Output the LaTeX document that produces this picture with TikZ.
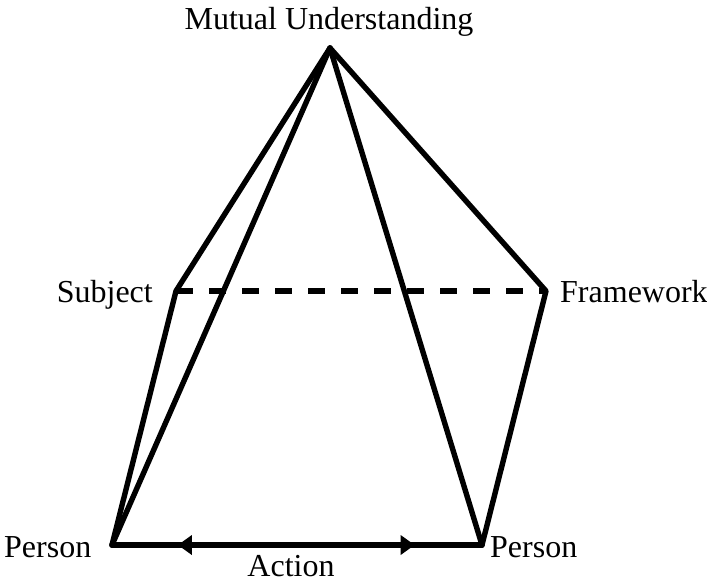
\documentclass[tikz,border=0pt]{standalone}
\usepackage{fontspec}
\setmainfont{Liberation Serif}
\usetikzlibrary{arrows.meta,calc}
\begin{document}
\begin{tikzpicture}[x=1pt,y=-1pt,
  edge/.style={line width=5.4pt,line join=round,line cap=round},
  hidden/.style={line width=5.4pt,dash pattern=on 17pt off 16pt},
  lbl/.style={font=\fontsize{32}{34}\selectfont,inner sep=0pt}]
\useasboundingbox (0,0) rectangle (707,582);
% corners of the pyramid
\coordinate (A) at (330,48);
\coordinate (S) at (176,291);
\coordinate (F) at (546,291);
\coordinate (L) at (112,545);
\coordinate (R) at (482,545);
% hidden back edge
\draw[hidden] (S) -- (F);
% visible edges
\draw[edge] (A) -- (S) -- (L);
\draw[edge] (A) -- (F) -- (R);
\draw[edge] (A) -- (L);
\draw[edge] (A) -- (R);
\draw[edge] (L) -- (R);
% action arrows on the base
\coordinate (al) at ($(L)!0.178!(R)$);
\coordinate (ar) at ($(L)!0.818!(R)$);
\draw[line width=5.4pt,{Triangle[length=14pt,width=19pt]}-{Triangle[length=14pt,width=19pt]}] (al) -- (ar);
% labels
\node[lbl,anchor=base] (tMU) at (329,29) {Mutual Understanding};
\node[lbl,anchor=base east] (tS) at (153,302) {Subject};
\node[lbl,anchor=base west] (tF) at (560,302) {Framework};
\node[lbl,anchor=base west] (tPL) at (4,557) {Person};
\node[lbl,anchor=base west] (tPR) at (490,557) {Person};
\node[lbl,anchor=base] (tA) at (291,576) {Action};
\end{tikzpicture}
\end{document}
